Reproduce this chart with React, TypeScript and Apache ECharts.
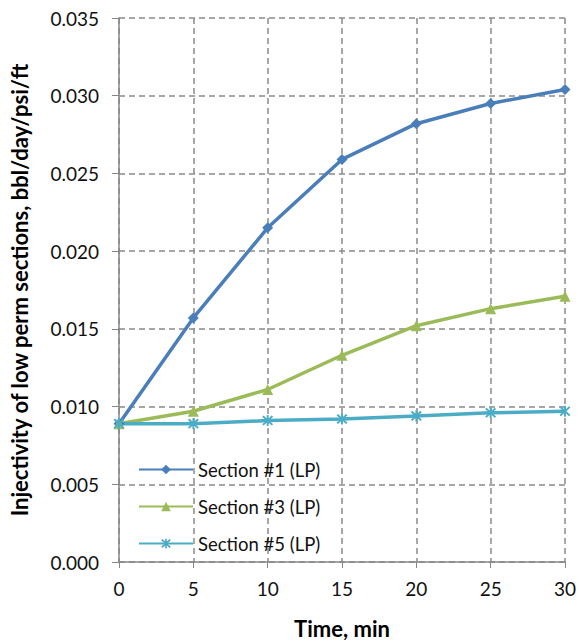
import React, { useEffect, useRef } from "react";
import * as echarts from "echarts";

const times = [0, 5, 10, 15, 20, 25, 30];
const section1 = [0.0089, 0.0157, 0.0215, 0.0259, 0.0282, 0.0295, 0.0304];
const section3 = [0.0089, 0.0097, 0.0111, 0.0133, 0.0152, 0.0163, 0.0171];
const section5 = [0.0089, 0.0089, 0.0091, 0.0092, 0.0094, 0.0096, 0.0097];
const seriesNames = ["Section #1 (LP)", "Section #3 (LP)", "Section #5 (LP)"];

const asterisk =
  "path://M4.2,0h1.6v10h-1.6z M0.4,1.6L1.6,0.4L9.6,8.4L8.4,9.6z M8.4,0.4L9.6,1.6L1.6,9.6L0.4,8.4z";

const FONT = "Lato, 'Open Sans', sans-serif";

export default function App() {
  const ref = useRef<HTMLDivElement>(null);
  useEffect(() => {
    if (!ref.current) return;
    const chart = echarts.init(ref.current, undefined, { renderer: "svg" });
    const mk = (vals: number[]) => times.map((t, i) => [t, vals[i]]);
    const gridLine = { show: true, lineStyle: { color: "#8a8a8a", width: 1.5, type: [6, 4] as any } };
    chart.setOption({
      animation: false,
      backgroundColor: "#ffffff",
      textStyle: { fontFamily: FONT },
      grid: { left: 111, width: 456, top: 18, height: 548, containLabel: false },
      legend: {
        orient: "vertical",
        left: 133,
        top: 455,
        itemWidth: 54,
        itemHeight: 12,
        itemGap: 18,
        textStyle: { fontSize: 18.5, color: "#111", fontFamily: FONT },
        data: seriesNames,
      },
      xAxis: {
        type: "value",
        min: 0,
        max: 30,
        interval: 5,
        name: "Time, min",
        nameLocation: "middle",
        nameGap: 55,
        nameTextStyle: { fontSize: 22, fontWeight: "bold", color: "#000", fontFamily: FONT },
        axisLine: { show: true, lineStyle: { color: "#868686", width: 1.5 } },
        axisTick: { show: true, inside: false, length: 6, lineStyle: { color: "#868686" } },
        axisLabel: { fontSize: 19, color: "#111", margin: 17, fontFamily: FONT },
        splitLine: gridLine,
      },
      yAxis: {
        type: "value",
        min: 0,
        max: 0.035,
        interval: 0.005,
        name: "Injectivity of low perm sections, bbl/day/psi/ft",
        nameLocation: "middle",
        nameGap: 89,
        nameTextStyle: { fontSize: 22, fontWeight: "bold", color: "#000", fontFamily: FONT },
        axisLine: { show: true, lineStyle: { color: "#868686", width: 1.5 } },
        axisTick: { show: true, inside: false, length: 7, lineStyle: { color: "#868686" } },
        axisLabel: {
          fontSize: 19,
          color: "#111",
          margin: 20,
          fontFamily: FONT,
          formatter: (v: number) => v.toFixed(3),
        },
        splitLine: gridLine,
      },
      series: [
        {
          name: seriesNames[0],
          type: "line",
          data: mk(section1),
          symbol: "diamond",
          symbolSize: 11,
          lineStyle: { color: "#4A7EBB", width: 3.5 },
          itemStyle: { color: "#4A7EBB" },
        },
        {
          name: seriesNames[1],
          type: "line",
          data: mk(section3),
          symbol: "triangle",
          symbolSize: 11,
          lineStyle: { color: "#9BBB59", width: 3.5 },
          itemStyle: { color: "#9BBB59" },
        },
        {
          name: seriesNames[2],
          type: "line",
          data: mk(section5),
          symbol: asterisk,
          symbolSize: 11,
          lineStyle: { color: "#4BACC6", width: 3.5 },
          itemStyle: { color: "#4BACC6" },
        },
      ],
    });
    return () => chart.dispose();
  }, []);
  return (
    <div
      ref={ref}
      style={{ position: "fixed", left: 0, top: 0, width: 579, height: 644, background: "#fff" }}
    />
  );
}
